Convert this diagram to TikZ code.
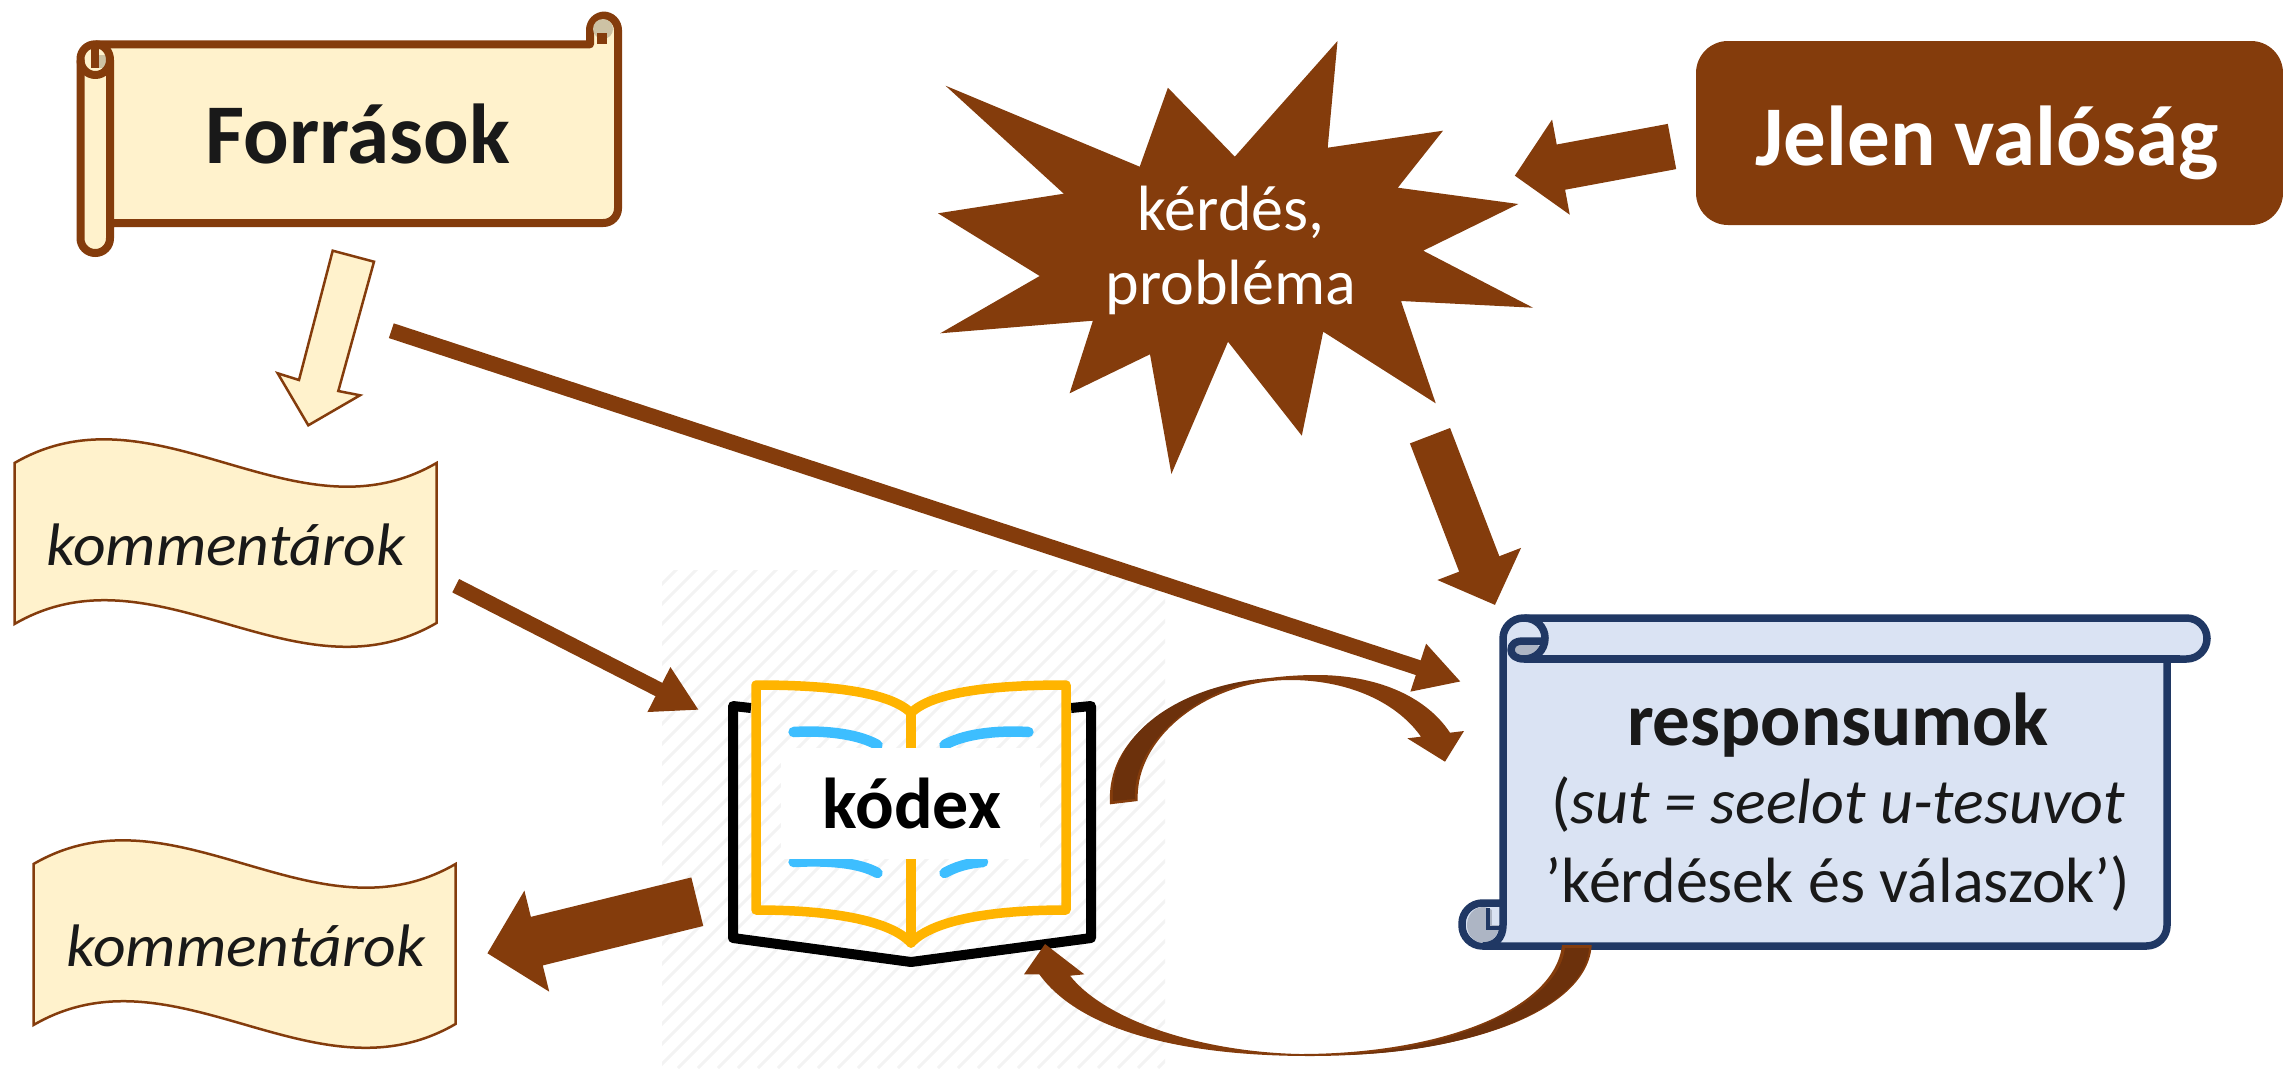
\documentclass[tikz,border=0pt]{standalone}
\usepackage{fontspec}
\setmainfont{Carlito}
\usepackage{tikz}
\usetikzlibrary{calc}
\usetikzlibrary{arrows.meta}
\definecolor{rust}{HTML}{843C0C}
\definecolor{rust-dark}{HTML}{6C310C}
\definecolor{cream}{HTML}{FFF2CC}
\definecolor{cream-shade}{HTML}{CDC2A4}
\definecolor{navy}{HTML}{203864}
\definecolor{pale-blue}{HTML}{DAE3F3}
\definecolor{blue-shade}{HTML}{ADB5C4}
\definecolor{hatch-gray}{HTML}{F3F3F3}
\definecolor{page-orange}{HTML}{FFB400}
\definecolor{line-blue}{HTML}{3DBEFF}
\definecolor{ink}{HTML}{191919}
\tikzset{
  blockarrow/.style n args={3}{draw=rust, line width=#1pt, -{Triangle[length=#2pt, width=#3pt]}},
  wavebox/.style={draw=rust, fill=cream, line width=2.5pt, line join=miter},
  srcline/.style={draw=rust, line width=8pt, line join=round},
  respline/.style={draw=navy, line width=7.5pt, line join=round},
  commtext/.style={anchor=base, inner sep=0pt, text=ink, xscale=1.06, transform shape, font=\fontsize{60}{72}\selectfont\itshape},
}

\begin{document}
\begin{tikzpicture}[x=1pt, y=-1pt]
\useasboundingbox (0, 0) rectangle (2283, 1068);

% Hatched square behind the book
\begin{scope}
\clip (662, 570) rectangle (1165, 1068);
\foreach \s in {0, 20, ..., 1020} {
  \draw[hatch-gray, line width=3pt] (158 + \s, 1068) -- (658 + \s, 568);
}
\end{scope}

% ---------------------------------------------------
% Book
\draw[black, line width=10pt, line join=round] (751, 708) -- (733, 706) -- (733, 938) -- (911, 962) -- (1091, 938) -- (1091, 706) -- (1071, 708);
\draw[page-orange, line width=9.5pt, line join=round]
  (756, 685) .. controls (830, 685) and (890, 692) .. (911, 713)
  .. controls (932, 692) and (992, 685) .. (1066, 685) -- (1066, 910)
  .. controls (992, 910) and (932, 920) .. (911, 943)
  .. controls (890, 920) and (830, 910) .. (756, 910) -- cycle;
\draw[page-orange, line width=9.5pt, line cap=round] (911, 713) -- (911, 943);
% Lines of text
\draw[line-blue, line width=10.5pt, line cap=round] (793.6, 732) .. controls (830, 730) and (860, 735) .. (877.5, 745);
\draw[line-blue, line width=10.5pt, line cap=round] (1028.4, 732) .. controls (992, 730) and (962, 735) .. (944.5, 745);
\draw[line-blue, line width=10.5pt, line cap=round] (793.6, 862) .. controls (830, 860) and (860, 863) .. (877.5, 873);
\draw[line-blue, line width=10.5pt, line cap=round] (983, 862) .. controls (968, 863) and (955, 867) .. (944.5, 873);
\fill[white] (781, 748) rectangle (1040, 859);
\node[anchor=base, inner sep=0pt, font=\fontsize{72}{86}\selectfont\bfseries] (kodex) at (912, 828) {kódex};

% ---------------------------------------------------
% Scroll - Sources
\draw[srcline, fill=cream, rounded corners=14.6pt] (110, 223) -- (618, 223) -- (618, 15.5) -- (590, 15.5)
  [sharp corners] -- (590, 44.3) [rounded corners=14.6pt] -- (80.5, 44.3) -- (80.5, 253) -- (110, 253) [sharp corners] -- (110, 60);
\fill[cream-shade] (603, 29) circle (10);
\fill[rust] (597, 33) rectangle (607, 44);
\fill[cream-shade] (99, 55) rectangle (107, 68);
\draw[srcline] (95.3, 44.3) .. controls (105, 44.3) and (110, 52) .. (110, 60) .. controls (110, 68) and (104, 75) .. (95.3, 75) .. controls (87, 75) and (80.5, 68) .. (80.5, 60);
\draw[rust, line width=8pt] (95.3, 48) -- (95.3, 68);
\node[anchor=base, inner sep=0pt, text=ink, font=\fontsize{85}{100}\selectfont\bfseries] (forras) at (358, 163) {Források};

% Present reality
\draw[fill=rust, draw=none, rounded corners=32pt] (1696, 41) rectangle (2283, 225);
\node[anchor=base, inner sep=0pt, text=white, font=\fontsize{85}{100}\selectfont\bfseries] (jelen) at (1987, 165) {Jelen valóság};

% Burst
\fill[rust] (1337.5, 41) -- (1327.7, 147.7) -- (1443, 130.7) -- (1397.8, 187.7) -- (1518.3, 204)
  -- (1423.2, 250.7) -- (1533, 307.7) -- (1401, 301) -- (1435.7, 403.3) -- (1323.2, 331.7)
  -- (1301.8, 435.7) -- (1228, 341.7) -- (1171.4, 474) -- (1150, 354.3) -- (1069.6, 393.3)
  -- (1092.9, 320.7) -- (940.2, 333.3) -- (1039.7, 276) -- (938, 213.3) -- (1063.8, 193.7)
  -- (945.5, 85.7) -- (1139.7, 166.7) -- (1167.9, 87.7) -- (1234.8, 156.7) -- cycle;
\node[inner sep=0pt, text=white, align=center, font=\fontsize{64}{74}\selectfont] (kerdes) at (1231, 250) {kérdés,\\probléma};

% Commentaries
\foreach \wx/\wy in {14.5/463, 33.5/864} {
  \draw[wavebox] (\wx, \wy) .. controls +(141, -82) and +(-141, 82) .. ++(422, 0)
    -- ++(0, 160) .. controls +(-141, 82) and +(141, -82) .. ++(-422, 1) -- cycle;
}
\node[commtext] (komm1) at (226, 565) {kommentárok};
\node[commtext] (komm2) at (246, 966) {kommentárok};

% Scroll - Responsa
\draw[respline, fill=pale-blue, rounded corners=20.5pt] (1503, 903) -- (1503, 618) -- (2207, 618) -- (2207, 659)
  [sharp corners] -- (2167, 659) [rounded corners=20.5pt] -- (2167, 946) -- (1462, 946) -- (1462, 903) [sharp corners] -- (1503, 903);
\draw[respline] (1524, 659) -- (2180, 659);
\fill[blue-shade] (1526, 651) ellipse [x radius=15, y radius=10];
\fill[blue-shade] (1483, 925) ellipse [x radius=16, y radius=18];
\fill[pale-blue] (1492, 910) rectangle (1499, 925);
\draw[respline] (1524, 618) .. controls (1536, 618) and (1545, 627) .. (1545, 638) .. controls (1545, 650) and (1536, 659) .. (1524, 659) .. controls (1516, 659) and (1511, 655) .. (1511, 650) .. controls (1511, 644) and (1516, 641) .. (1522, 641) -- (1545, 641);
\draw[navy, line width=4.5pt] (1488, 908) -- (1488, 928) -- (1503, 928);
\draw[respline] (1503, 903) -- (1503, 925) .. controls (1503, 938) and (1495, 946) .. (1483, 946);
\node[inner sep=0pt, text=ink, align=center, font=\fontsize{64}{78.5}\selectfont] (resp) at (1838, 802) {{\fontsize{75}{78.5}\selectfont\bfseries responsumok}\\(\textit{sut = seelot u-tesuvot}\\’kérdések és válaszok’)};

% ---------------------------------------------------
% Start - End - of arrows
\coordinate[] (p1s) at ($ (forras.base) + (33.3, 167.7) $);
\coordinate[] (p1e) at ($ (resp) + (-377, -120.3) $);
\coordinate[] (p2s) at ($ (komm1.base) + (229.7, 20.7) $);
\coordinate[] (p2e) at ($ (kodex.base) + (-213, -118) $);
\coordinate[] (p3s) at ($ (kerdes) + (199, 185.7) $);
\coordinate[] (p3e) at ($ (resp) + (-343, -197) $);
\coordinate[] (p4s) at ($ (jelen.base) + (-315, -18.5) $);
\coordinate[] (p4e) at ($ (kerdes) + (283.7, -74.3) $);
\coordinate[] (p5s) at ($ (kodex.base) + (-214.7, 73.7) $);
\coordinate[] (p5e) at ($ (komm2.base) + (241.3, -12.7) $);

\path[] (p1s) edge[blockarrow={15.5}{45}{47}] (p1e);
\path[] (p2s) edge[blockarrow={15}{45}{47}] (p2e);
\path[] (p3s) edge[blockarrow={43}{44}{87}] (p3e);
\path[] (p4s) edge[blockarrow={46}{47}{94}] (p4e);
\path[] (p5s) edge[blockarrow={50}{51}{101}] (p5e);

% Outline arrow down from the sources
\draw[draw=rust, fill=cream, line width=2.5pt, line join=miter] (332.7, 250.7) -- (374, 261.7) -- (338.3, 391) -- (360, 395.3)
  -- (308.3, 425.3) -- (277.7, 373.3) -- (299, 380) -- cycle;

% ---------------------------------------------------
% Curved arrow, book to responsa
\fill[rust] (1110, 804.3) .. controls (1105, 720) and (1210, 675) .. (1316.7, 675)
  .. controls (1375, 675) and (1425, 695) .. (1450, 732.7) -- (1464, 731) -- (1445, 761.7) -- (1407.3, 738.3) -- (1421, 736.7)
  .. controls (1395, 700) and (1345, 680) .. (1290, 680)
  .. controls (1210, 680) and (1135, 735) .. (1137.7, 801) -- cycle;
\fill[rust-dark] (1113, 801) .. controls (1108, 725) and (1195, 682) .. (1272, 678)
  .. controls (1206, 684) and (1132, 738) .. (1135, 799) -- cycle;

% Curved arrow, responsa to book
\fill[rust] (1591.7, 945) .. controls (1588, 1010) and (1470, 1056) .. (1310, 1056)
  .. controls (1175, 1056) and (1078, 1028) .. (1039.3, 974.3) -- (1024, 974.3) -- (1045, 944) -- (1084.3, 974.3) -- (1070, 975.7)
  .. controls (1105, 1020) and (1200, 1052) .. (1300, 1054)
  .. controls (1440, 1054) and (1555, 1010) .. (1562, 945) -- cycle;
\fill[rust-dark] (1589, 948) .. controls (1585, 1008) and (1470, 1053) .. (1340, 1055)
  .. controls (1445, 1050) and (1558, 1008) .. (1565, 948) -- cycle;
\end{tikzpicture}
\end{document}
